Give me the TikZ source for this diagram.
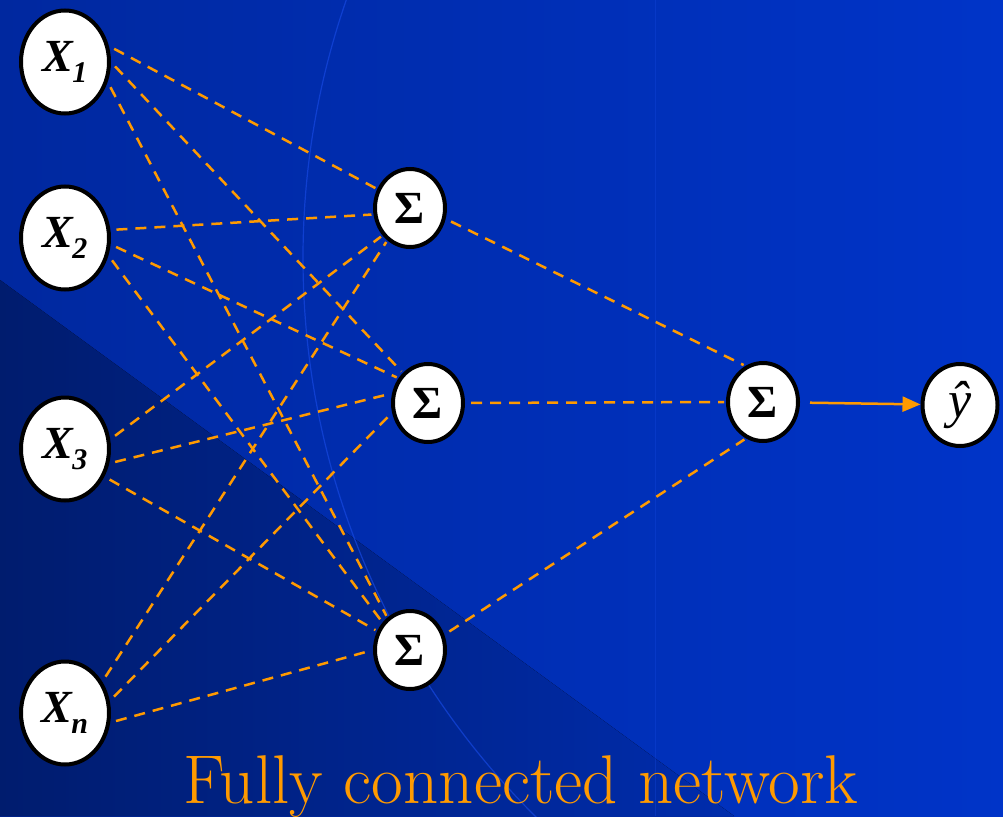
\documentclass[tikz,border=0pt]{standalone}
\usepackage{fontspec}
\usepackage{amsmath}
\usepackage{tikz}
\usetikzlibrary{arrows.meta,shapes.geometric,positioning}
\newfontfamily\timesfont{Liberation Serif}
\definecolor{nn-bgdark}{HTML}{00289F}
\definecolor{nn-bglight}{HTML}{0034C8}
\definecolor{nn-wedgedark}{HTML}{001C6E}
\definecolor{nn-wedgelight}{HTML}{002CAC}
\definecolor{nn-glow}{HTML}{1648E0}
\definecolor{nn-orange}{HTML}{FF9A00}
% input label: bold italic X with a lowered index
\newcommand{\xin}[1]{{\timesfont\bfseries\itshape\fontsize{46}{46}\selectfont X\kern-1pt\raisebox{-11pt}{\fontsize{30}{30}\selectfont #1}}}
\newcommand{\sumsign}{{\timesfont\bfseries\fontsize{46}{46}\selectfont\char"03A3}}

\begin{document}
\begin{tikzpicture}[x=1pt, y=-1pt,
    inbox/.style={draw, ellipse, line width=4pt, fill=white, inner sep=0pt,
                  minimum width=88pt, minimum height=103pt},
    sumbox/.style={draw, ellipse, line width=4pt, fill=white, inner sep=0pt,
                   minimum width=70pt, minimum height=78pt},
    link/.style={nn-orange, line width=2.5pt, dash pattern=on 11pt off 8pt,
                 shorten >=2pt, shorten <=6pt}]
    \useasboundingbox (0,0) rectangle (1003,816);
    % background
    \fill[left color=nn-bgdark, right color=nn-bglight] (0,0) rectangle (1003,816);
    \fill[left color=nn-wedgedark, right color=nn-wedgelight] (0,280) -- (734,816) -- (0,816) -- cycle;
    \begin{scope}
        \clip (0,0) rectangle (1003,816);
        \draw[nn-glow, line width=1.2pt, opacity=0.7] (1090,258) circle (787);
        \draw[nn-glow, line width=1pt, opacity=0.35] (655,0) -- (655,816);
    \end{scope}

    % inputs
    \node[inbox] (x1) at (65,62) {\xin{1}};
    \node[inbox] (x2) at (65,238) {\xin{2}};
    \node[inbox] (x3) at (65,449) {\xin{3}};
    \node[inbox] (xn) at (65,713) {\xin{n}};

    % hidden sums
    \node[sumbox] (s1) at (410,208) {\sumsign};
    \node[sumbox] (s2) at (428,403) {\sumsign};
    \node[sumbox] (s3) at (410,650) {\sumsign};

    % output
    \node[sumbox] (out) at (763,402) {\sumsign};
    \node[sumbox, minimum width=75pt, minimum height=82pt] (yhat) at (960,405)
        {\timesfont\itshape\fontsize{52}{52}\selectfont ŷ};

    % connections, each leaving and entering at a border angle
    \draw[link] (x1.20) -- (s1.150);
    \draw[link] (x1.0) -- (s2.130);
    \draw[link] (x1.-25) -- (s3.125);
    \draw[link] (x2.10) -- (s1.190);
    \draw[link] (x2.-8) -- (s2.140);
    \draw[link] (x2.-22) -- (s3.135);
    \draw[link] (x3.12) -- (s1.225);
    \draw[link] (x3.-18) -- (s2.165);
    \draw[link] (x3.-35) -- (s3.150);
    \draw[link] (xn.40) -- (s1.235);
    \draw[link] (xn.15) -- (s2.195);
    \draw[link] (xn.-12) -- (s3.180);
    \draw[link] (s1.-17) -- (out.116);
    \draw[link] (s2.0) -- (out.180);
    \draw[link] (s3.24) -- (out.245);
    \draw[nn-orange, line width=2.5pt, shorten <=10pt,
          -{Triangle[length=18pt, width=15pt]}] (out) -- (yhat);

    \node[nn-orange, font=\fontsize{69}{69}\selectfont, anchor=base] (title) at (521,803)
        {Fully connected network};
\end{tikzpicture}
\end{document}
